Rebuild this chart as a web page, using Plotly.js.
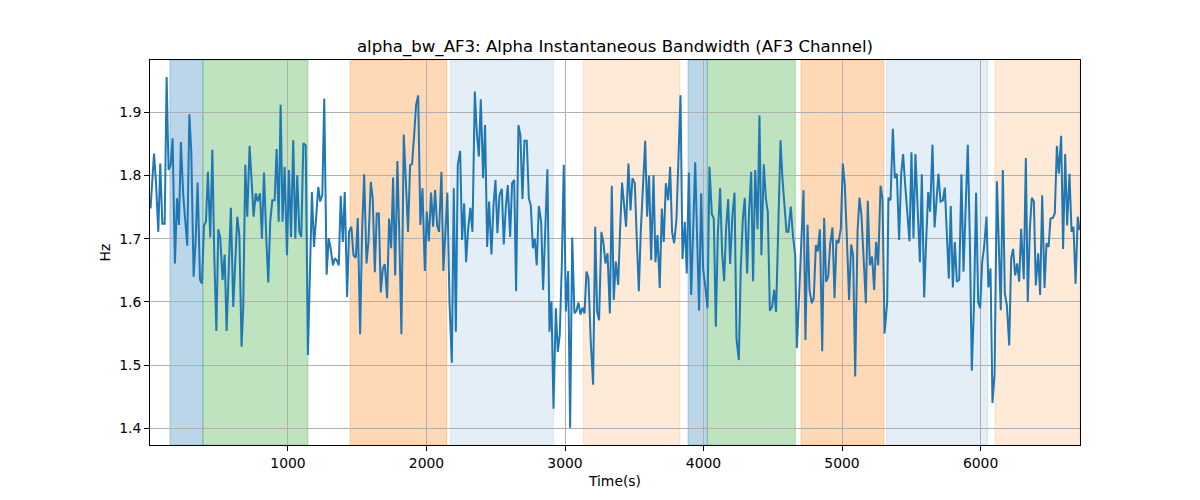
<!DOCTYPE html>
<html><head><meta charset="utf-8">
<script src="https://cdn.plot.ly/plotly-3.0.1.min.js"></script>
<style>html,body{margin:0;padding:0;background:#fff}#chart{width:1200px;height:500px}</style>
</head><body><div id="chart"></div>
<script>
const timeSec = [
8,33,47,64,78,93,110,124,138,153,167,184,199,213,227,244,259,273,288,302,319,333,348,365,379,394,408,422,439,454,468,483,497,511,528,543,557,572,588,605,620,634,649,665,
677,692,706,723,738,752,767,781,788,798,812,827,844,858,872,887,904,918,933,947,961,976,993,1007,1022,1038,1053,1067,1082,1096,1111,1128,1144,1159,1173,1188,1205,1219,1233,1248,1262,1279,1294,1308,1325,1339,
1352,1367,1381,1396,1410,1427,1441,1458,1473,1490,1504,1521,1535,1550,1567,1581,1598,1612,1627,1641,1656,1670,1685,1699,1716,1730,1745,1759,1774,1790,1805,1819,1836,1853,1867,1882,1896,1911,1925,1940,1956,1971,1988,2002,
2017,2033,2048,2062,2077,2091,2108,2122,2137,2151,2166,2183,2197,2212,2226,2243,2257,2272,2286,2301,2317,2332,2349,2363,2378,2392,2409,2423,2438,2452,2469,2484,2498,2512,2527,2544,2558,2573,2587,2604,2618,2633,2647,2664,
2678,2693,2707,2724,2739,2753,2768,2782,2796,2811,2828,2842,2857,2873,2888,2902,2917,2934,2948,2962,2977,2991,3006,3023,3037,3052,3068,3083,3097,3112,3126,3141,3155,3169,3186,3203,3218,3232,3246,3263,3278,3292,3307,3324,3338,
3352,3367,3384,3398,3412,3427,3441,3458,3473,3487,3504,3518,3533,3547,3562,3579,3593,3607,3622,3639,3653,3668,3684,3699,3713,3728,3745,3759,3773,3788,3805,3819,3834,3848,3865,3879,3894,3911,3925,3940,3954,3968,3983,3997,
4014,4029,4043,4060,4074,4089,4103,4120,4134,4149,4163,4178,4192,4209,4224,4238,4255,4269,4284,4298,4315,4329,4344,4358,4373,4390,4404,4418,4435,4450,4464,4479,4495,4510,4524,4539,4556,4570,4585,4599,4613,4630,4645,4662,
4674,4690,4705,4722,4736,4751,4765,4782,4796,4811,4825,4840,4857,4871,4885,4900,4914,4931,4946,4960,4974,4991,5006,5020,5035,5051,5066,5080,5095,5112,5126,5140,5157,5172,5186,5201,5217,5232,5246,5261,5278,5292,5307,5326,
5335,5350,5367,5381,5396,5412,5427,5441,5456,5470,5487,5501,5516,5530,5547,5562,5576,5593,5607,5622,5636,5653,5668,5682,5696,5711,5728,5742,5757,5771,5785,5800,5814,5829,5846,5862,5877,5894,5908,5923,5937,5952,5968,5983,
5997,6012,6026,6043,6057,6072,6086,6101,6118,6132,6146,6161,6175,6190,6207,6221,6235,6250,6264,6279,6293,6312,6327,6341,6356,6370,6385,6399,6416,6430,6445,6462,6476,6491,6505,6522,6536,6551,6565,6582,6596,6611,6625,6642,6657,6671,6686,6702,6714
];
const alphaBw = [
1.748,1.835,1.790,1.711,1.819,1.724,1.724,1.956,1.809,1.817,1.859,1.661,1.764,1.722,1.853,1.769,1.727,1.689,1.897,1.838,1.640,1.695,1.789,1.635,1.629,1.721,1.727,1.806,1.702,1.841,1.674,1.554,1.715,1.702,1.635,1.675,1.554,1.664,1.749,1.592,1.680,1.735,1.706,1.529,
1.590,1.817,1.735,1.847,1.790,1.735,1.772,1.759,1.764,1.772,1.700,1.805,1.698,1.631,1.727,1.761,1.761,1.842,1.727,1.912,1.727,1.814,1.674,1.809,1.703,1.856,1.700,1.801,1.711,1.703,1.851,1.848,1.516,1.664,1.774,1.687,1.738,1.782,1.759,1.769,1.922,1.643,1.701,1.685,1.658,1.669,
1.666,1.658,1.768,1.695,1.774,1.608,1.711,1.719,1.674,1.670,1.733,1.549,1.711,1.802,1.661,1.695,1.790,1.764,1.647,1.740,1.740,1.615,1.653,1.660,1.606,1.732,1.685,1.797,1.642,1.823,1.695,1.549,1.865,1.781,1.711,1.817,1.818,1.864,1.912,1.927,1.722,1.780,1.649,1.743,
1.696,1.773,1.719,1.777,1.721,1.711,1.806,1.649,1.722,1.773,1.600,1.504,1.780,1.553,1.817,1.839,1.698,1.756,1.663,1.716,1.749,1.711,1.933,1.869,1.830,1.921,1.796,1.880,1.687,1.759,1.675,1.753,1.793,1.709,1.769,1.779,1.691,1.751,1.785,1.703,1.788,1.793,1.617,1.880,
1.864,1.763,1.855,1.855,1.764,1.753,1.685,1.700,1.658,1.752,1.727,1.619,1.711,1.810,1.553,1.601,1.431,1.590,1.521,1.548,1.658,1.817,1.585,1.649,1.401,1.702,1.582,1.586,1.599,1.580,1.591,1.582,1.648,1.638,1.537,1.469,1.719,1.585,1.571,1.711,1.693,1.661,1.677,1.582,1.784,
1.603,1.664,1.627,1.716,1.789,1.753,1.719,1.819,1.745,1.796,1.788,1.701,1.617,1.711,1.780,1.855,1.735,1.800,1.666,1.801,1.663,1.706,1.622,1.748,1.695,1.788,1.761,1.814,1.711,1.693,1.732,1.822,1.927,1.668,1.727,1.645,1.805,1.611,1.732,1.821,1.701,1.586,1.772,1.653,
1.622,1.590,1.814,1.739,1.732,1.561,1.706,1.780,1.680,1.633,1.716,1.763,1.660,1.738,1.773,1.542,1.508,1.653,1.732,1.765,1.645,1.743,1.806,1.633,1.809,1.715,1.895,1.674,1.818,1.764,1.743,1.586,1.592,1.619,1.584,1.711,1.856,1.795,1.743,1.711,1.711,1.751,1.706,1.674,
1.527,1.616,1.698,1.777,1.540,1.722,1.619,1.598,1.606,1.690,1.680,1.715,1.522,1.733,1.632,1.640,1.691,1.718,1.606,1.698,1.693,1.716,1.819,1.785,1.701,1.603,1.691,1.674,1.482,1.712,1.765,1.738,1.664,1.598,1.760,1.658,1.672,1.619,1.695,1.658,1.784,1.764,1.550,1.600,
1.765,1.761,1.874,1.796,1.803,1.698,1.803,1.834,1.785,1.738,1.696,1.837,1.701,1.834,1.738,1.663,1.802,1.607,1.695,1.774,1.743,1.849,1.718,1.759,1.803,1.759,1.761,1.781,1.693,1.637,1.752,1.623,1.695,1.632,1.635,1.802,1.648,1.754,1.849,1.695,1.491,1.590,1.773,1.600,
1.590,1.664,1.687,1.735,1.623,1.653,1.440,1.484,1.791,1.690,1.587,1.809,1.614,1.595,1.531,1.669,1.684,1.642,1.661,1.632,1.716,1.636,1.828,1.600,1.716,1.765,1.759,1.626,1.677,1.611,1.769,1.622,1.693,1.687,1.732,1.733,1.740,1.847,1.803,1.863,1.684,1.834,1.721,1.803,1.711,1.719,1.629,1.735,1.714
];
// Shaded segments (seconds) and their segment kind
const bandStart = [148, 386, 1448, 2174, 3132, 3888, 4027, 4704, 5322, 6104];
const bandEnd   = [386, 1144, 2146, 2918, 3830, 4027, 4663, 5303, 6052, 6718];
const bandKind  = ['A','B','C','D','E','A','B','C','D','E'];
const xTicks = [1000, 2000, 3000, 4000, 5000, 6000];
const yTicks = [1.4, 1.5, 1.6, 1.7, 1.8, 1.9];

const kindFill = {
  A: 'rgba(31,119,180,0.30)',
  B: 'rgba(44,160,44,0.30)',
  C: 'rgba(255,127,14,0.30)',
  D: 'rgba(31,119,180,0.12)',
  E: 'rgba(255,127,14,0.16)'
};

const shapes = bandStart.map((s, i) => ({
  type: 'rect', xref: 'x', yref: 'paper', x0: s, x1: bandEnd[i], y0: 0, y1: 1,
  fillcolor: kindFill[bandKind[i]], line: {color: kindFill[bandKind[i]], width: 1}, layer: 'below'
}));

const font = {family: 'DejaVu Sans, sans-serif', color: '#000'};
const tickFont = Object.assign({}, font, {size: 13.9});

const trace = {
  x: timeSec, y: alphaBw, type: 'scatter', mode: 'lines',
  line: {color: '#1f77b4', width: 2}, hoverinfo: 'skip'
};

const axisCommon = {
  showline: true, mirror: true, linecolor: '#000', linewidth: 1,
  ticks: 'outside', ticklen: 5, tickwidth: 1, tickcolor: '#000',
  showgrid: true, gridcolor: '#b0b0b0', gridwidth: 1, zeroline: false,
  tickfont: tickFont
};

const layout = Object.assign({
  width: 1200, height: 500,
  margin: {l: 150, r: 120, t: 60, b: 55},
  paper_bgcolor: '#fff', plot_bgcolor: '#fff',
  showlegend: false,
  title: {text: 'alpha_bw_AF3: Alpha Instantaneous Bandwidth (AF3 Channel)',
    font: Object.assign({}, font, {size: 16.6}), x: 0.5, xref: 'paper', xanchor: 'center',
    y: 1 - 46/500, yref: 'container', yanchor: 'middle'},
  xaxis: Object.assign({}, axisCommon, {
    range: [4, 6718], tickvals: xTicks, ticktext: xTicks.map(String),
    title: {text: 'Time(s)', font: Object.assign({}, font, {size: 13.9}), standoff: 6}
  }),
  yaxis: Object.assign({}, axisCommon, {
    range: [1.3736, 1.983], tickvals: yTicks, ticktext: yTicks.map(v => v.toFixed(1)),
    title: {text: 'Hz', font: Object.assign({}, font, {size: 13.9}), standoff: 5}
  }),
  shapes: shapes
});

Plotly.newPlot('chart', [trace], layout, {displayModeBar: false, staticPlot: true});
</script>
</body></html>
